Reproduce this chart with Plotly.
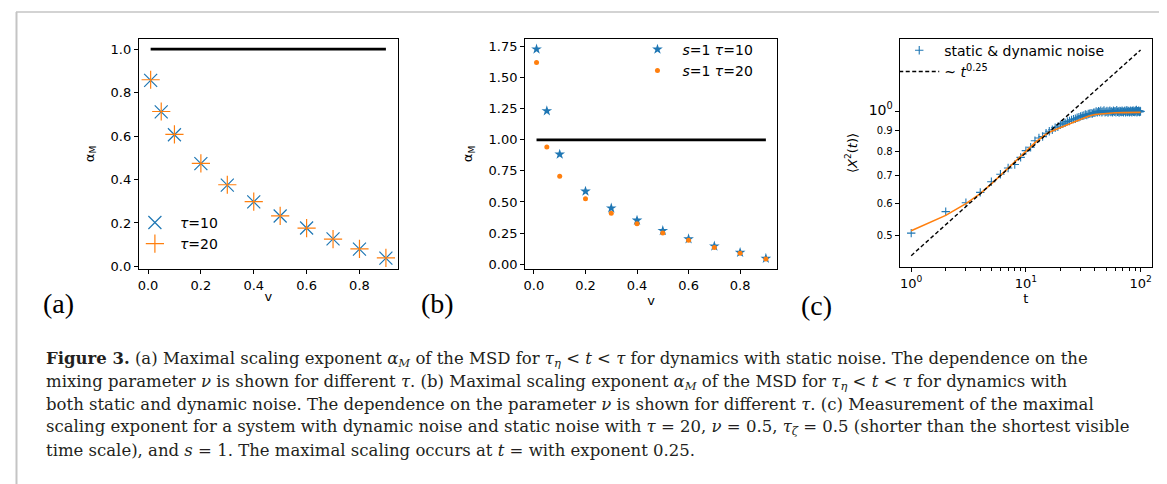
import plotly.graph_objects as go

W, H = 1167, 484

# ---------------- data ----------------
# panel (a): static noise
v_a = [0.01, 0.05, 0.1, 0.2, 0.3, 0.4, 0.5, 0.6, 0.7, 0.8, 0.9]
alpha_a_tau10 = [0.856, 0.711, 0.606, 0.473, 0.374, 0.297, 0.232, 0.177, 0.127, 0.080, 0.038]
alpha_a_tau20 = [0.859, 0.713, 0.608, 0.474, 0.376, 0.298, 0.233, 0.176, 0.126, 0.081, 0.039]
ref_v = [0.01, 0.9]
ref_alpha = [1.0, 1.0]

# panel (b): static & dynamic noise
v_b = [0.01, 0.05, 0.1, 0.2, 0.3, 0.4, 0.5, 0.6, 0.7, 0.8, 0.9]
alpha_b_tau10 = [1.731, 1.233, 0.884, 0.586, 0.450, 0.352, 0.269, 0.202, 0.144, 0.093, 0.045]
alpha_b_tau20 = [1.623, 0.943, 0.708, 0.525, 0.410, 0.325, 0.250, 0.192, 0.133, 0.088, 0.040]

# panel (c): MSD vs t
t_c = list(range(1, 101))
msd_c = [
    0.507, 0.572, 0.601, 0.637, 0.676, 0.705, 0.730, 0.745, 0.775, 0.805,
    0.820, 0.851, 0.864, 0.871, 0.887, 0.897, 0.905, 0.915, 0.920, 0.930,
    0.935, 0.940, 0.948, 0.950, 0.956, 0.960, 0.962, 0.968, 0.970, 0.975,
    0.978, 0.980, 0.985, 0.983, 0.988, 0.990, 0.992, 0.990, 0.996, 0.995,
    1.002, 0.997, 1.004, 0.999, 1.006, 0.998, 1.003, 1.008, 0.997, 1.001,
    1.005, 0.996, 1.002, 1.007, 0.999, 1.003, 0.997, 1.006, 1.001, 1.004,
    0.998, 1.009, 1.000, 1.003, 0.996, 1.005, 1.002, 0.999, 1.007, 1.001,
    0.998, 1.004, 1.006, 0.997, 1.002, 1.010, 0.999, 1.003, 1.005, 0.998,
    1.001, 1.007, 1.002, 0.997, 1.004, 1.008, 1.000, 1.003, 0.999, 1.006,
    1.002, 1.011, 0.998, 1.004, 1.001, 1.007, 1.003, 0.999, 1.005, 1.002,
]
t_fit = [1, 2, 3, 4, 5, 6, 7, 8, 9, 10, 11, 12, 13, 14, 15, 16, 18, 20, 22, 25,
         30, 35, 40, 50, 60, 70, 80, 100]
msd_fit = [0.514, 0.560, 0.598, 0.633, 0.668, 0.700, 0.728, 0.754, 0.778, 0.800,
           0.822, 0.842, 0.858, 0.870, 0.882, 0.892, 0.905, 0.916, 0.928, 0.943,
           0.963, 0.976, 0.985, 0.992, 0.995, 0.996, 0.997, 0.997]
t_pow = [1, 100]
msd_pow = [0.447, 1.414]

BLUE = "#1f77b4"
ORANGE = "#ff7f0e"
SANS = "DejaVu Sans"
SERIF = "Liberation Serif"
CAP_SERIF = "DejaVu Serif"

fig = go.Figure()

# ---- (a)
fig.add_trace(go.Scatter(x=ref_v, y=ref_alpha, mode="lines", line=dict(color="black", width=2.6),
                         showlegend=False, xaxis="x", yaxis="y"))
fig.add_trace(go.Scatter(x=v_a, y=alpha_a_tau10, mode="markers", name="<i>τ</i>=10",
                         marker=dict(symbol="x-thin", size=13, line=dict(color=BLUE, width=1.2)),
                         xaxis="x", yaxis="y", legend="legend"))
fig.add_trace(go.Scatter(x=v_a, y=alpha_a_tau20, mode="markers", name="<i>τ</i>=20",
                         marker=dict(symbol="cross-thin", size=13, line=dict(color=ORANGE, width=1.2)),
                         xaxis="x", yaxis="y", legend="legend"))

# ---- (b)
fig.add_trace(go.Scatter(x=ref_v, y=ref_alpha, mode="lines", line=dict(color="black", width=2.6),
                         showlegend=False, xaxis="x2", yaxis="y2"))
fig.add_trace(go.Scatter(x=v_b, y=alpha_b_tau10, mode="markers", name="<i>s</i>=1 <i>τ</i>=10",
                         marker=dict(symbol="star", size=8, color=BLUE),
                         xaxis="x2", yaxis="y2", legend="legend2"))
fig.add_trace(go.Scatter(x=v_b, y=alpha_b_tau20, mode="markers", name="<i>s</i>=1 <i>τ</i>=20",
                         marker=dict(symbol="circle", size=5, color=ORANGE),
                         xaxis="x2", yaxis="y2", legend="legend2"))

# ---- (c)
fig.add_trace(go.Scatter(x=t_c, y=msd_c, mode="markers", name="static &amp; dynamic noise",
                         marker=dict(symbol="cross-thin", size=6, line=dict(color=BLUE, width=1.1)),
                         xaxis="x3", yaxis="y3", legend="legend3"))
fig.add_trace(go.Scatter(x=t_fit, y=msd_fit, mode="lines", line=dict(color=ORANGE, width=1.6),
                         showlegend=False, xaxis="x3", yaxis="y3"))
fig.add_trace(go.Scatter(x=t_pow, y=msd_pow, mode="lines", name="~ <i>t</i><sup>0.25</sup>",
                         line=dict(color="black", width=1.4, dash="4px,2.5px"),
                         xaxis="x3", yaxis="y3", legend="legend3"))

def px(x):
    return x / W

def py(y):
    return 1 - y / H

axis_common = dict(showline=True, linecolor="black", linewidth=1, mirror=True,
                   ticks="outside", ticklen=4, tickwidth=1, tickcolor="black",
                   showgrid=False, zeroline=False)

fig.update_layout(
    width=W, height=H, margin=dict(l=0, r=0, t=0, b=0),
    paper_bgcolor="white", plot_bgcolor="white",
    font=dict(family=SANS, color="black"),
    xaxis=dict(domain=[px(130), px(389)], range=[-0.0345, 0.9445], anchor="y",
               tickvals=[0, 0.2, 0.4, 0.6, 0.8], ticktext=["0.0", "0.2", "0.4", "0.6", "0.8"],
               tickfont=dict(size=13),
               title=dict(text="v", font=dict(size=13), standoff=0), **axis_common),
    yaxis=dict(domain=[py(264), py(31)], range=[-0.013, 1.048], anchor="x",
               tickvals=[0, 0.2, 0.4, 0.6, 0.8, 1.0], ticktext=["0.0", "0.2", "0.4", "0.6", "0.8", "1.0"],
               tickfont=dict(size=13),
               title=dict(text="α<sub>M</sub>", font=dict(size=13), standoff=13), **axis_common),
    xaxis2=dict(domain=[px(516.5), px(769)], range=[-0.0345, 0.9445], anchor="y2",
                tickvals=[0, 0.2, 0.4, 0.6, 0.8], ticktext=["0.0", "0.2", "0.4", "0.6", "0.8"],
                tickfont=dict(size=13),
                title=dict(text="v", font=dict(size=13), standoff=0), **axis_common),
    yaxis2=dict(domain=[py(264), py(31)], range=[-0.042, 1.815], anchor="x2",
                tickvals=[0, 0.25, 0.5, 0.75, 1.0, 1.25, 1.5, 1.75],
                ticktext=["0.00", "0.25", "0.50", "0.75", "1.00", "1.25", "1.50", "1.75"],
                tickfont=dict(size=13),
                title=dict(text="α<sub>M</sub>", font=dict(size=13), standoff=12), **axis_common),
    xaxis3=dict(domain=[px(891.5), px(1144)], type="log", range=[-0.1, 2.1], anchor="y3",
                tickvals=[1, 10, 100],
                ticktext=["10<sup>0</sup>", "10<sup>1</sup>", "10<sup>2</sup>"],
                tickfont=dict(size=13),
                minor=dict(tickvals=[2, 3, 4, 5, 6, 7, 8, 9, 20, 30, 40, 50, 60, 70, 80, 90],
                           ticks="outside", ticklen=2.5, tickcolor="black", tickwidth=0.8),
                title=dict(text="t", font=dict(size=13), standoff=0), **axis_common),
    yaxis3=dict(domain=[py(262), py(31)], type="log", range=[-0.378, 0.178], anchor="x3",
                tickvals=[0.5, 0.6, 0.7, 0.8, 0.9, 1.0],
                ticktext=["0.5", "0.6", "0.7", "0.8", "0.9",
                          '<span style="font-size:14px">10<sup>0</sup></span>'],
                tickfont=dict(size=10),
                title=dict(text="⟨<i>X</i><sup>2</sup>(<i>t</i>)⟩", font=dict(size=13), standoff=8),
                **axis_common),
    legend=dict(x=px(121), y=py(201), xanchor="left", yanchor="top", bgcolor="rgba(0,0,0,0)",
                font=dict(size=14, family=SANS), itemwidth=40, tracegroupgap=2),
    legend2=dict(x=px(624), y=py(26), xanchor="left", yanchor="top", bgcolor="rgba(0,0,0,0)",
                 font=dict(size=14, family=SANS), itemwidth=40),
    legend3=dict(x=px(886), y=py(27), xanchor="left", yanchor="top", bgcolor="rgba(0,0,0,0)",
                 font=dict(size=14, family=SANS), itemwidth=40),
)

# page frame
frame = "#c4c4c4"
fig.add_shape(type="line", xref="paper", yref="paper", x0=px(7), x1=px(1161), y0=py(4), y1=py(4),
              line=dict(color=frame, width=1.5))
fig.add_shape(type="line", xref="paper", yref="paper", x0=px(7.5), x1=px(7.5), y0=py(4), y1=0,
              line=dict(color=frame, width=2))
fig.add_shape(type="line", xref="paper", yref="paper", x0=px(1161), x1=px(1161), y0=py(4), y1=0,
              line=dict(color="#d4d4d4", width=1))

# panel labels
for lab, xc, yc in [("(a)", 50, 299), ("(b)", 429, 299), ("(c)", 808, 301)]:
    fig.add_annotation(text=lab, xref="paper", yref="paper", x=px(xc), y=py(yc),
                       xanchor="center", yanchor="middle", showarrow=False,
                       font=dict(family=SERIF, size=28, color="black"))

# caption
caption = [
    "<b>Figure 3.</b> (a) Maximal scaling exponent <i>α<sub>M</sub></i> of the MSD for "
    "<i>τ<sub>η</sub></i> &lt; <i>t</i> &lt; <i>τ</i> for dynamics with static noise. The dependence on the",
    "mixing parameter <i>ν</i> is shown for different <i>τ</i>. (b) Maximal scaling exponent "
    "<i>α<sub>M</sub></i> of the MSD for <i>τ<sub>η</sub></i> &lt; <i>t</i> &lt; <i>τ</i> for dynamics with",
    "both static and dynamic noise. The dependence on the parameter <i>ν</i> is shown for different "
    "<i>τ</i>. (c) Measurement of the maximal",
    "scaling exponent for a system with dynamic noise and static noise with <i>τ</i> = 20, "
    "<i>ν</i> = 0.5, <i>τ<sub>ζ</sub></i> = 0.5 (shorter than the shortest visible",
    "time scale), and <i>s</i> = 1. The maximal scaling occurs at <i>t</i> = with exponent 0.25.",
]
for i, line in enumerate(caption):
    fig.add_annotation(text=line, xref="paper", yref="paper", x=px(35), y=py(355 + 23 * i),
                       xanchor="left", yanchor="middle", showarrow=False, align="left",
                       font=dict(family=CAP_SERIF, size=16.5, color="#231f20"))

fig.write_html("out.html")
